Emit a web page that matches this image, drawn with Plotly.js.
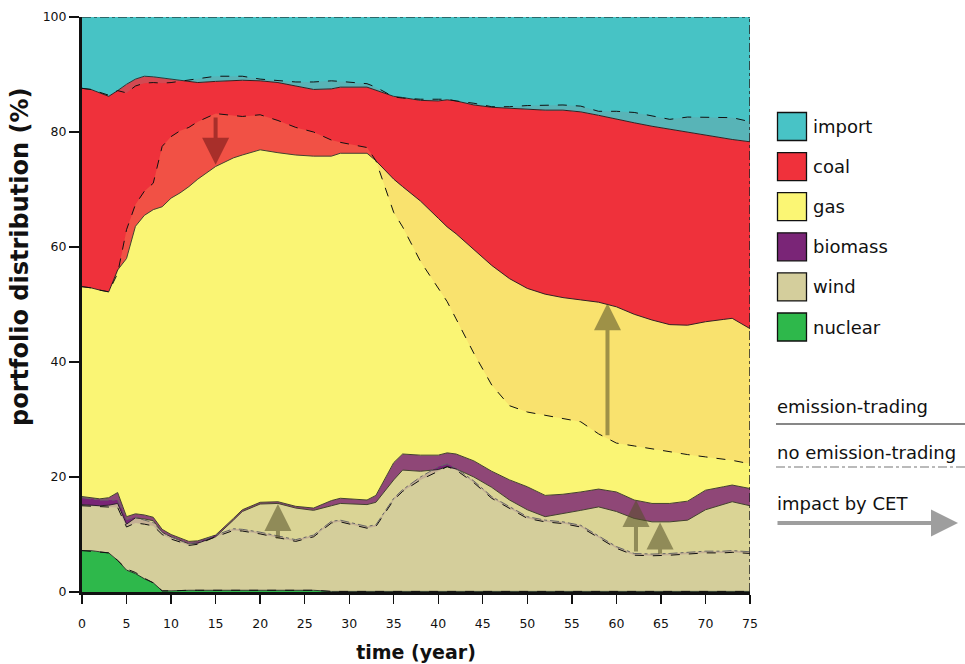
<!DOCTYPE html>
<html><head><meta charset="utf-8">
<script src="https://cdn.plot.ly/plotly-3.0.1.min.js"></script>
<style>html,body{margin:0;padding:0;background:#fff}#chart{width:965px;height:664px}</style>
</head><body><div id="chart"></div>
<script>
// time axis (years)
const years = [0,1,2,3,4,5,6,7,8,9,10,11,12,13,15,17,18,20,22,24,26,28,29,32,33,35,36,38,40,41,42,44,46,48,50,52,54,56,58,60,62,64,66,68,70,72,73,75];

// scenario: emission-trading (shares in %)
const et_nuclear = [7.2,7.2,7.0,6.8,5.5,3.8,3.2,2.3,1.6,0.2,0.2,0.3,0.3,0.3,0.3,0.3,0.3,0.3,0.3,0.3,0.3,0.1,0.1,0.1,0.1,0.1,0.1,0.1,0.1,0.1,0.1,0.1,0.1,0.1,0.1,0.1,0.1,0.1,0.1,0.1,0.1,0.1,0.1,0.1,0.1,0.1,0.1,0.1];
const et_wind = [8.0,7.9,8.0,8.3,9.9,8.0,9.7,10.4,10.8,10.2,9.4,8.7,8.1,8.2,9.3,12.2,13.7,15.0,15.1,14.3,13.9,14.9,15.3,15.1,15.5,19.4,21.1,20.9,21.2,21.7,21.3,19.9,18.1,15.9,14.2,13.0,13.5,14.1,14.7,13.9,12.7,12.1,12.1,12.4,14.2,15.1,15.6,14.9];
const et_biomass = [1.4,1.3,1.2,1.3,1.9,1.3,0.7,0.7,0.6,0.5,0.4,0.4,0.4,0.4,0.3,0.3,0.3,0.3,0.3,0.3,0.4,0.9,0.9,0.8,1.2,3.0,2.8,2.8,2.5,2.4,2.6,2.8,2.8,3.5,4.0,3.7,3.4,3.2,3.1,3.4,3.2,3.2,3.2,3.3,3.4,3.1,2.9,3.0];
const et_gas = [36.5,36.5,36.3,35.8,38.7,44.9,50.0,52.1,53.5,56.1,58.5,60.0,61.7,62.9,64.1,62.7,61.7,61.3,60.7,61.1,61.2,59.9,60.0,60.3,58.2,49.3,46.5,44.2,41.2,39.3,38.3,36.7,35.8,35.0,34.5,35.0,34.2,33.4,32.5,32.2,32.3,31.9,31.1,30.6,29.3,29.1,29.0,27.8];
const et_coal = [34.5,34.5,34.3,34.0,31.2,30.3,25.6,24.2,23.1,22.4,20.6,19.5,18.2,16.8,14.8,13.5,13.0,12.0,12.2,12.0,11.6,11.7,11.5,11.5,12.3,14.4,15.5,17.5,20.4,22.1,23.1,25.2,27.5,29.6,31.2,32.0,32.6,32.7,32.5,32.6,33.3,33.7,34.0,33.6,32.4,31.6,31.1,32.5];
const et_import = [12.4,12.6,13.2,13.8,12.8,11.7,10.8,10.3,10.4,10.6,10.9,11.1,11.3,11.4,11.2,11.0,11.0,11.1,11.4,12.0,12.6,12.5,12.2,12.2,12.7,13.8,14.0,14.5,14.6,14.4,14.6,15.3,15.7,15.9,16.0,16.2,16.2,16.5,17.1,17.8,18.4,19.0,19.5,20.0,20.6,21.0,21.3,21.7];

// scenario: no emission-trading (shares in %)
const nt_nuclear = [7.2,7.1,7.0,6.8,5.5,4.0,3.4,2.4,1.6,0.2,0.2,0.3,0.3,0.3,0.3,0.3,0.3,0.3,0.3,0.3,0.3,0.1,0.1,0.1,0.1,0.1,0.1,0.1,0.1,0.1,0.1,0.1,0.1,0.1,0.1,0.1,0.1,0.1,0.1,0.1,0.1,0.1,0.1,0.1,0.1,0.1,0.1,0.1];
const nt_wind = [7.8,7.8,7.8,8.0,9.2,7.3,8.6,9.4,9.9,9.8,9.0,8.4,7.8,8.0,9.3,10.4,10.3,9.8,9.1,8.5,9.3,11.9,12.1,11.0,11.3,15.9,17.4,19.4,20.9,21.7,21.1,18.9,16.2,14.4,12.7,12.1,11.8,11.2,9.4,7.5,6.3,6.2,6.3,6.5,6.7,6.7,6.8,6.6];
const nt_biomass = [1.4,1.3,1.2,1.2,1.3,1.3,1.0,0.7,0.6,0.4,0.4,0.3,0.3,0.3,0.3,0.3,0.3,0.3,0.3,0.3,0.3,0.3,0.3,0.3,0.3,0.3,0.3,0.5,0.8,0.5,0.3,0.3,0.3,0.3,0.3,0.3,0.3,0.3,0.3,0.3,0.3,0.3,0.3,0.3,0.3,0.3,0.3,0.3];
const nt_gas = [36.7,36.7,36.5,36.2,39.4,50.4,54.4,57.2,59.0,67.1,69.6,71.2,72.4,73.2,73.3,71.8,71.8,72.6,72.3,71.7,70.1,66.3,65.7,65.9,63.3,49.7,45.7,37.5,31.0,28.2,26.0,22.2,19.4,17.6,18.2,18.2,18.0,18.0,17.7,18.0,18.7,18.3,17.6,17.0,16.4,16.0,15.7,15.3];
const nt_coal = [34.5,34.5,34.4,34.2,31.8,23.8,20.6,18.8,17.5,11.0,9.4,8.6,8.2,7.4,6.5,6.9,7.0,6.2,6.9,7.9,8.7,10.3,10.6,11.1,12.8,20.1,22.4,28.2,32.9,35.2,37.9,43.5,48.4,52.0,53.3,54.0,54.5,54.9,56.1,57.7,58.0,57.9,57.9,58.7,59.1,59.5,59.6,59.5];
const nt_import = [12.4,12.6,13.1,13.6,12.8,13.2,12.0,11.5,11.4,11.5,11.4,11.2,11.0,10.8,10.3,10.3,10.3,10.8,11.1,11.3,11.3,11.1,11.2,11.6,12.2,13.9,14.1,14.3,14.3,14.3,14.6,15.0,15.6,15.6,15.4,15.3,15.3,15.5,16.4,16.4,16.6,17.2,17.8,17.4,17.4,17.4,17.5,18.2];

// legend / categories
const fuels = ['nuclear','wind','biomass','gas','coal','import'];
const legendOrder = ['import','coal','gas','biomass','wind','nuclear'];
const fuelColors = {import:'#48c3c6', coal:'#f0313b', gas:'#fbf674', biomass:'#7a2577', wind:'#d4ce9c', nuclear:'#2eb84b'};
const overlayAlpha = {import:0.17, coal:0.10, gas:0.17, biomass:0.17, wind:0.17, nuclear:0.17};
const lineLabels = ['emission-trading','no emission-trading','impact by CET'];

// CET impact arrows: [year, from (no trading), to (trading), kind]
const arrowYears = [15, 22, 59, 62.2, 64.9];
const arrowFrom = [82.8, 9.0, 27.0, 6.8, 6.4];
const arrowTo = [74.3, 15.3, 50.2, 16.0, 12.1];
const arrowKind = ['coal','wind','gas','wind','wind'];

const et = {nuclear:et_nuclear, wind:et_wind, biomass:et_biomass, gas:et_gas, coal:et_coal, import:et_import};
const nt = {nuclear:nt_nuclear, wind:nt_wind, biomass:nt_biomass, gas:nt_gas, coal:nt_coal, import:nt_import};

function hexA(h, a){
  const r=parseInt(h.slice(1,3),16), g=parseInt(h.slice(3,5),16), b=parseInt(h.slice(5,7),16);
  return 'rgba('+r+','+g+','+b+','+a+')';
}

const traces = [];
fuels.forEach(f => {
  traces.push({
    x: years, y: et[f], type:'scatter', mode:'lines', stackgroup:'et', name:f,
    fillcolor: fuelColors[f],
    line:{color:'#1e1e1e', width: f==='import'?0:1},
    showlegend:false, hoverinfo:'skip'
  });
});
fuels.forEach(f => {
  traces.push({
    x: years, y: nt[f], type:'scatter', mode:'lines', stackgroup:'nt', name:f+' (no ET)',
    fillcolor: hexA(fuelColors[f], overlayAlpha[f]),
    line:{color: f==='biomass' ? '#666' : '#111', width:1, dash: f==='biomass' ? 'dashdot' : (f==='import' ? 'dashdot' : 'dash')},
    showlegend:false, hoverinfo:'skip'
  });
});

const PL = 82, PR = 750, PT = 17, PB = 592;
const px = v => (v - PL) / (PR - PL);
const py = v => (PB - v) / (PB - PT);

const shapes = [];
const annotations = [];
const font = 'DejaVu Sans, Verdana, sans-serif';

legendOrder.forEach((f, i) => {
  const cy = 126.5 + i * 40.1;
  shapes.push({type:'rect', xref:'paper', yref:'paper', x0:px(777.5), x1:px(806.5), y0:py(cy+14), y1:py(cy-14),
    fillcolor:fuelColors[f], line:{color:'#111', width:1.3}});
  annotations.push({xref:'paper', yref:'paper', x:px(811), y:py(cy), xanchor:'left', yanchor:'middle',
    text:f, showarrow:false, font:{family:font, size:18, color:'#111'}});
});

// line style keys
annotations.push({xref:'paper', yref:'paper', x:px(775), y:py(406), xanchor:'left', yanchor:'middle', text:lineLabels[0], showarrow:false, font:{family:font, size:18, color:'#111'}});
shapes.push({type:'line', xref:'paper', yref:'paper', x0:px(776), x1:px(965), y0:py(424), y1:py(424), line:{color:'#111', width:1.2}});
annotations.push({xref:'paper', yref:'paper', x:px(775), y:py(452), xanchor:'left', yanchor:'middle', text:lineLabels[1], showarrow:false, font:{family:font, size:18, color:'#111'}});
shapes.push({type:'line', xref:'paper', yref:'paper', x0:px(776), x1:px(965), y0:py(467), y1:py(467), line:{color:'#777', width:1.2, dash:'dashdot'}});
annotations.push({xref:'paper', yref:'paper', x:px(775), y:py(503), xanchor:'left', yanchor:'middle', text:lineLabels[2], showarrow:false, font:{family:font, size:18, color:'#111'}});
annotations.push({xref:'paper', yref:'paper', axref:'paper', ayref:'paper', x:px(958), y:py(523), ax:px(776), ay:py(523),
  text:'', showarrow:true, arrowhead:2, arrowsize:1.35, arrowwidth:4, arrowcolor:'rgba(135,135,135,0.8)', standoff:0});

// impact arrows
arrowYears.forEach((yr, i) => {
  annotations.push({xref:'x', yref:'y', axref:'x', ayref:'y', x:yr, y:arrowTo[i], ax:yr, ay:arrowFrom[i],
    text:'', showarrow:true, arrowhead:2, arrowsize:1.35, arrowwidth:4, standoff:0,
    arrowcolor: arrowKind[i]==='coal' ? 'rgba(120,25,25,0.6)' : 'rgba(85,80,40,0.55)'});
});

// right border of the plotted area
shapes.push({type:'line', xref:'x', yref:'paper', x0:75, x1:75, y0:0, y1:1, line:{color:'#222', width:1.5, dash:'dashdot'}});

const layout = {
  width:965, height:664,
  margin:{l:PL, r:965-PR, t:PT, b:664-PB},
  paper_bgcolor:'#fff', plot_bgcolor:'#fff',
  showlegend:false,
  xaxis:{range:[0,75], tickvals:[0,5,10,15,20,25,30,35,40,45,50,55,60,65,70,75],
    ticks:'outside', ticklen:9, tickwidth:1.3, tickcolor:'#111', ticklabelstandoff:9,
    showline:true, linewidth:3, linecolor:'#111', showgrid:false, zeroline:false,
    tickfont:{family:font, size:12.5, color:'#111'},
    title:{text:'time (year)', font:{family:font, size:19, color:'#111', weight:'bold'}, standoff:16}},
  yaxis:{range:[0,100], tickvals:[0,20,40,60,80,100],
    ticks:'outside', ticklen:10, tickwidth:1.3, tickcolor:'#111',
    showline:true, linewidth:3, linecolor:'#111', showgrid:false, zeroline:false,
    tickfont:{family:font, size:12.5, color:'#111'},
    title:{text:'<span style="fill-opacity:0">MMMM</span>portfolio distribution (%)', font:{family:font, size:24, color:'#111', weight:'bold'}, standoff:8}},
  shapes:shapes, annotations:annotations
};

Plotly.newPlot('chart', traces, layout, {displayModeBar:false, staticPlot:true});
</script></body></html>
